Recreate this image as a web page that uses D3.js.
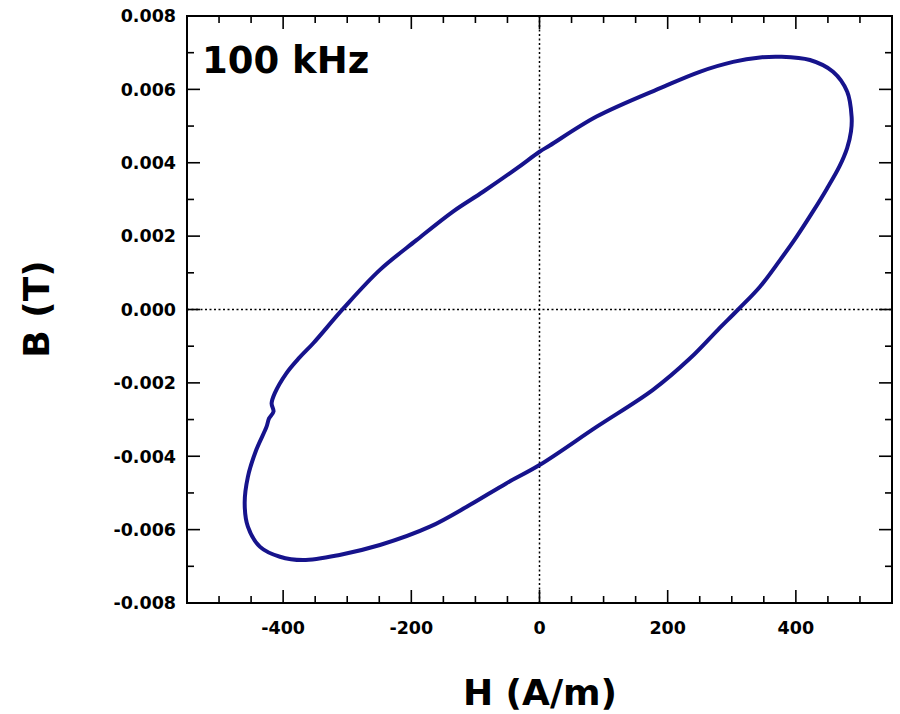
<!DOCTYPE html>
<html>
<head>
<meta charset="utf-8">
<script src="https://cdn.jsdelivr.net/npm/d3@7"></script>
<style>
  html, body { margin: 0; padding: 0; background: #fff; }
  text { font-family: "DejaVu Sans", sans-serif; font-weight: bold; fill: #000; }
</style>
</head>
<body>
<svg id="chart" width="900" height="714"></svg>
<script>
// Loop data (H in A/m, B in T), in drawing order
const H = [487, 480, 458, 422, 375, 344, 302, 250, 193, 89, 16, 0, -36, -88, -135, -192, -249, -306, -353, -375, -395, -413, -418, -415, -422, -426, -442, -455, -460, -455, -436, -405, -369, -312, -249, -171, -109, -52, 0, 89, 177, 235, 278, 310, 344, 375, 401, 427, 448, 468, 480, 486];
const B = [0.00525, 0.00594, 0.00648, 0.00680, 0.00689, 0.00687, 0.00675, 0.00648, 0.00607, 0.00526, 0.00447, 0.00430, 0.00384, 0.00321, 0.00267, 0.00189, 0.00108, 0.00003, -0.00092, -0.00132, -0.00174, -0.00228, -0.00256, -0.00278, -0.00297, -0.00320, -0.00383, -0.00456, -0.00528, -0.00592, -0.00647, -0.00674, -0.00683, -0.00669, -0.00642, -0.00592, -0.00533, -0.00474, -0.00424, -0.00320, -0.00219, -0.00133, -0.00056, 0.00000, 0.00062, 0.00134, 0.00198, 0.00268, 0.00328, 0.00390, 0.00440, 0.00485];
const xTickLabels = [-400, -200, 0, 200, 400];
const yTickLabels = [-0.008, -0.006, -0.004, -0.002, 0, 0.002, 0.004, 0.006, 0.008];
const xMinorTicks = d3.range(-500, 501, 50);
const yMinorTicks = d3.range(-8, 8.1, 1).map(v => v / 1000);
const title = "100 kHz";

const svg = d3.select("#chart");
const L = 187, R = 892, T = 16, Bt = 603;
const x = d3.scaleLinear().domain([-550, 550]).range([L, R]);
const y = d3.scaleLinear().domain([-0.008, 0.008]).range([Bt, T]);

// zero dotted lines
svg.append("line").attr("x1", x(0)).attr("x2", x(0)).attr("y1", T).attr("y2", Bt)
  .attr("stroke", "#000").attr("stroke-width", 1.5).attr("stroke-dasharray", "2,2.5");
svg.append("line").attr("x1", L).attr("x2", R).attr("y1", y(0)).attr("y2", y(0))
  .attr("stroke", "#000").attr("stroke-width", 1.5).attr("stroke-dasharray", "2,2.5");

// ticks (inward) on all four sides
const isMajX = v => xTickLabels.includes(v);
const isMajY = v => yTickLabels.some(t => Math.abs(t - v) < 1e-9);
const tg = svg.append("g").attr("stroke", "#000").attr("stroke-width", 1.6);
xMinorTicks.forEach(v => {
  const len = isMajX(v) ? 13 : 7;
  tg.append("line").attr("x1", x(v)).attr("x2", x(v)).attr("y1", Bt).attr("y2", Bt - len);
  tg.append("line").attr("x1", x(v)).attr("x2", x(v)).attr("y1", T).attr("y2", T + len);
});
yMinorTicks.forEach(v => {
  if (Math.abs(v) > 0.0079) return;
  const len = isMajY(v) ? 13 : 7;
  tg.append("line").attr("x1", L).attr("x2", L + len).attr("y1", y(v)).attr("y2", y(v));
  tg.append("line").attr("x1", R).attr("x2", R - len).attr("y1", y(v)).attr("y2", y(v));
});

// frame
svg.append("rect").attr("x", L).attr("y", T).attr("width", R - L).attr("height", Bt - T)
  .attr("fill", "none").attr("stroke", "#000").attr("stroke-width", 2);

// tick labels
svg.append("g").selectAll("text").data(xTickLabels).join("text")
  .attr("x", d => x(d)).attr("y", 634).attr("text-anchor", "middle")
  .attr("font-size", 17.5).text(d => d3.format("d")(d).replace("−", "-"));
svg.append("g").selectAll("text").data(yTickLabels).join("text")
  .attr("x", 176).attr("y", d => y(d)).attr("dy", "0.36em").attr("text-anchor", "end")
  .attr("font-size", 17.5).text(d => d3.format(".3f")(d).replace("−", "-"));

// axis titles
svg.append("text").attr("x", 540).attr("y", 705).attr("text-anchor", "middle")
  .attr("font-size", 36).text("H (A/m)");
svg.append("text").attr("transform", "translate(49,309) rotate(-90)").attr("text-anchor", "middle")
  .attr("font-size", 36).text("B (T)");

// annotation
svg.append("text").attr("x", 202).attr("y", 73).attr("font-size", 37).text(title);

// loop
const pts = H.map((h, i) => [h, B[i]]);
const line = d3.line().x(d => x(d[0])).y(d => y(d[1])).curve(d3.curveCatmullRomClosed.alpha(0.5));
svg.append("path").datum(pts).attr("d", line)
  .attr("fill", "none").attr("stroke", "#16138c").attr("stroke-width", 4).attr("stroke-linejoin", "round");
</script>
</body>
</html>
